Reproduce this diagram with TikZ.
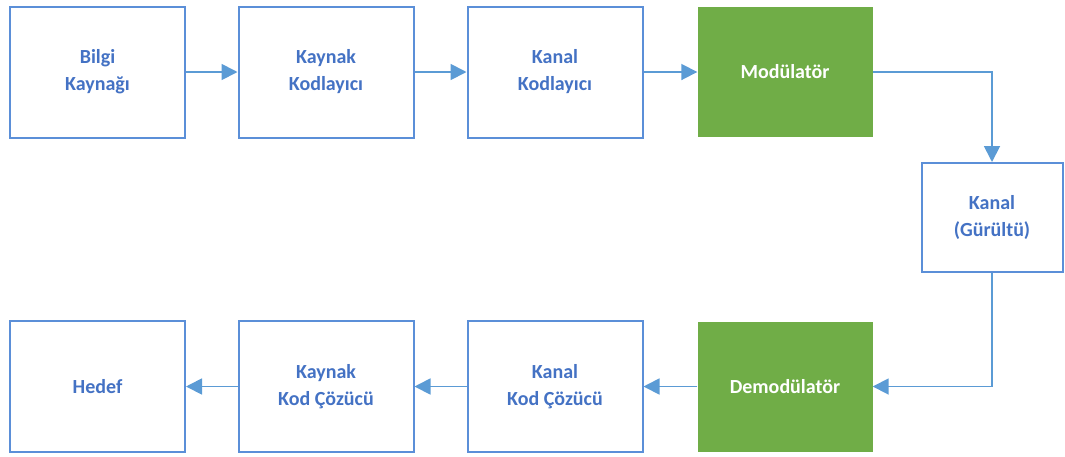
\documentclass[tikz,border=0pt]{standalone}
\usepackage{fontspec}
\setmainfont{Carlito}
\usetikzlibrary{arrows.meta}
\definecolor{bordc}{HTML}{5B8FD8}
\definecolor{txtc}{HTML}{4472C4}
\definecolor{grn}{HTML}{70AD47}
\definecolor{arrc}{HTML}{5B9BD5}
\tikzset{
  blk/.style={draw=bordc, line width=2pt, fill=white, minimum width=175pt, minimum height=131pt, align=center, text=txtc, font=\bfseries\fontsize{20}{27}\selectfont, inner sep=0pt},
  gblk/.style={fill=grn, minimum width=175pt, minimum height=130pt, align=center, text=white, font=\bfseries\fontsize{20}{27}\selectfont, inner sep=0pt},
  conn/.style={draw=arrc, line width=1.8pt, -{Triangle[length=16pt,width=16pt]}}
}
\begin{document}
\begin{tikzpicture}[x=1pt,y=-1pt]
\useasboundingbox (0,0) rectangle (1065,456);
\node[blk] (b1) at (97.5,72) {Bilgi\\Kaynağı};
\node[blk] (b2) at (326,72) {Kaynak\\Kodlayıcı};
\node[blk] (b3) at (555,72) {Kanal\\Kodlayıcı};
\node[gblk] (b4) at (785,72) {Modülatör};
\node[blk, minimum width=141pt, minimum height=109pt] (b5) at (992,217.5) {Kanal\\(Gürültü)};
\node[gblk] (b6) at (785,386.5) {Demodülatör};
\node[blk] (b7) at (555,386.5) {Kanal\\Kod Çözücü};
\node[blk] (b8) at (326,386.5) {Kaynak\\Kod Çözücü};
\node[blk] (b9) at (97.5,386.5) {Hedef};
\draw[conn] (b1) -- (b2);
\draw[conn] (b2) -- (b3);
\draw[conn] (b3) -- (b4);
\draw[conn] (b4.east) -| (b5.north);
\draw[conn] (b5.south) |- (b6.east);
\draw[conn] (b6) -- (b7);
\draw[conn] (b7) -- (b8);
\draw[conn] (b8) -- (b9);
\end{tikzpicture}
\end{document}
